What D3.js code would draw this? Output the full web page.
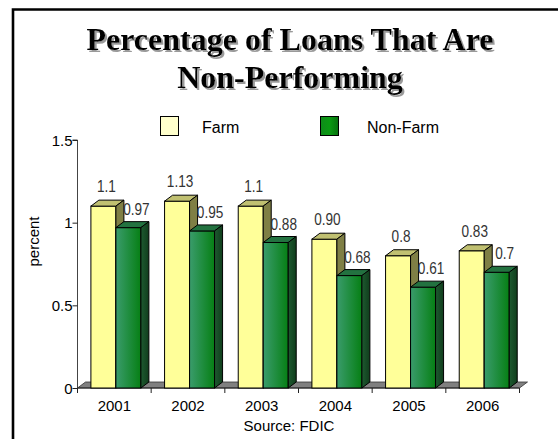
<!DOCTYPE html>
<html>
<head>
<meta charset="utf-8">
<script src="https://cdn.jsdelivr.net/npm/d3@7"></script>
<style>
  html, body { margin: 0; padding: 0; background: #fff; }
  svg { display: block; }
</style>
</head>
<body>
<svg id="chart" width="558" height="439"></svg>
<script>
const years = ["2001", "2002", "2003", "2004", "2005", "2006"];
const farm = [1.1, 1.13, 1.1, 0.90, 0.8, 0.83];
const nonFarm = [0.97, 0.95, 0.88, 0.68, 0.61, 0.7];
const farmLabels = ["1.1", "1.13", "1.1", "0.90", "0.8", "0.83"];
const nonFarmLabels = ["0.97", "0.95", "0.88", "0.68", "0.61", "0.7"];
const seriesNames = ["Farm", "Non-Farm"];
const yTicks = [0, 0.5, 1, 1.5];
const yTickLabels = ["0", "0.5", "1", "1.5"];
const titleLines = ["Percentage of Loans That Are", "Non-Performing"];
const yTitle = "percent";
const sourceText = "Source: FDIC";

const svg = d3.select("#chart");
const defs = svg.append("defs");

const gFront = defs.append("linearGradient").attr("id", "nfFront").attr("x1", "0").attr("x2", "1").attr("y1", "0").attr("y2", "0");
gFront.append("stop").attr("offset", "0%").attr("stop-color", "#3a9c6c");
gFront.append("stop").attr("offset", "100%").attr("stop-color", "#067f14");
const gSide = defs.append("linearGradient").attr("id", "nfSide").attr("x1", "0").attr("x2", "1").attr("y1", "0").attr("y2", "0");
gSide.append("stop").attr("offset", "0%").attr("stop-color", "#1e5a30");
gSide.append("stop").attr("offset", "100%").attr("stop-color", "#103d1c");
const gLeg = defs.append("linearGradient").attr("id", "nfLeg").attr("x1", "0").attr("x2", "1").attr("y1", "0").attr("y2", "0");
gLeg.append("stop").attr("offset", "0%").attr("stop-color", "#0f8a1a");
gLeg.append("stop").attr("offset", "50%").attr("stop-color", "#0a9a12");
gLeg.append("stop").attr("offset", "100%").attr("stop-color", "#06700e");

const shadow = defs.append("filter").attr("id", "tshadow").attr("x", "-5%").attr("y", "-20%").attr("width", "110%").attr("height", "150%");
shadow.append("feOffset").attr("in", "SourceAlpha").attr("dx", 2).attr("dy", 2).attr("result", "off");
shadow.append("feFlood").attr("flood-color", "#9a9a9a").attr("result", "col");
shadow.append("feComposite").attr("in", "col").attr("in2", "off").attr("operator", "in").attr("result", "sh");
const merge = shadow.append("feMerge");
merge.append("feMergeNode").attr("in", "sh");
merge.append("feMergeNode").attr("in", "SourceGraphic");

// frame
svg.append("path").attr("d", "M13,439 V9.5 H558").attr("fill", "none").attr("stroke", "#000").attr("stroke-width", 2.6);

// title with shadow
const titleX = 290;
titleLines.forEach((t, i) => {
  svg.append("text").attr("x", titleX).attr("y", 50 + i * 38).attr("text-anchor", "middle")
    .attr("font-family", "'Liberation Serif', 'Times New Roman', serif").attr("font-weight", "bold")
    .attr("font-size", 32).attr("fill", "#000").attr("filter", "url(#tshadow)").text(t);
});

// scales
const x = d3.scaleBand().domain(years).range([77.5, 519.5]);
const xs = d3.scaleBand().domain(seriesNames).range([13.4, 63.4]);
const y = d3.scaleLinear().domain([0, 1.5]).range([388, 140]);
const dx = 8, dy = 6;
const x0 = x.range()[0], x1 = x.range()[1], y0 = y(0);

// floor
svg.append("polygon")
  .attr("points", [[x0, y0], [x1, y0], [x1 + dx, y0 - dy], [x0 + dx, y0 - dy]].map(p => p.join(",")).join(" "))
  .attr("fill", "#808080").attr("stroke", "#333").attr("stroke-width", 0.8);

// y axis
const yAxis = d3.axisLeft(y).tickValues(yTicks).tickSize(5).tickFormat((d, i) => yTickLabels[i]);
const gy = svg.append("g").attr("transform", `translate(${x0},0)`).call(yAxis);
gy.select(".domain").attr("stroke", "#444").attr("d", `M-5,${y(1.5)}H0V${y0}`);
gy.selectAll(".tick line").attr("stroke", "#222");
gy.selectAll(".tick text").attr("font-family", "'Liberation Sans', Arial, sans-serif").attr("font-size", 15).attr("fill", "#000").attr("x", -5).attr("dy", "0.35em");

// x axis
const xAxis = d3.axisBottom(x).tickSize(0).tickPadding(12);
const gx = svg.append("g").attr("transform", `translate(0,${y0})`).call(xAxis);
gx.select(".domain").attr("stroke", "#222").attr("d", `M${x0},0H${x1}`);
gx.selectAll(".tick text").attr("font-family", "'Liberation Sans', Arial, sans-serif").attr("font-size", 15).attr("fill", "#000").attr("dy", "0.71em").attr("y", 12);
// boundary ticks
const bounds = years.map(d => x(d)).concat([x1]);
svg.append("g").selectAll("line").data(bounds).join("line")
  .attr("x1", d => d).attr("x2", d => d).attr("y1", y0).attr("y2", y0 + 5)
  .attr("stroke", "#222");

// bars
const series = [
  { name: "Farm", vals: farm, labels: farmLabels, front: "#ffff99", top: "#c0c071", side: "#7f7f45", lx: 3, ly: 14 },
  { name: "Non-Farm", vals: nonFarm, labels: nonFarmLabels, front: "url(#nfFront)", top: "#237240", side: "url(#nfSide)", lx: 8, ly: 13 }
];
const barsG = svg.append("g");
years.forEach((yr, i) => {
  series.forEach(s => {
    const v = s.vals[i];
    const xl = x(yr) + xs(s.name), w = xs.bandwidth();
    const top = y(v), bot = y(0);
    const g = barsG.append("g");
    g.append("rect").attr("x", xl).attr("y", top).attr("width", w).attr("height", bot - top)
      .attr("fill", s.front).attr("stroke", "#000").attr("stroke-width", 1);
    g.append("polygon").attr("points", [[xl, top], [xl + w, top], [xl + w + dx, top - dy], [xl + dx, top - dy]].map(p => p.join(",")).join(" "))
      .attr("fill", s.top).attr("stroke", "#000").attr("stroke-width", 1).attr("stroke-linejoin", "round");
    g.append("polygon").attr("points", [[xl + w, top], [xl + w + dx, top - dy], [xl + w + dx, bot - dy], [xl + w, bot]].map(p => p.join(",")).join(" "))
      .attr("fill", s.side).attr("stroke", "#000").attr("stroke-width", 1).attr("stroke-linejoin", "round");
  });
});
// labels (condensed like Arial Narrow)
years.forEach((yr, i) => {
  series.forEach(s => {
    const xl = x(yr) + xs(s.name), w = xs.bandwidth();
    svg.append("text")
      .attr("transform", `translate(${xl + w / 2 + s.lx},${y(s.vals[i]) - s.ly}) scale(0.85,1)`)
      .attr("text-anchor", "middle")
      .attr("font-family", "'Liberation Sans', Arial, sans-serif")
      .attr("font-size", 16).attr("fill", "#333").text(s.labels[i]);
  });
});

// y title
svg.append("text").attr("transform", `translate(38.5,241.5) rotate(-90)`).attr("text-anchor", "middle")
  .attr("font-family", "'Liberation Sans', Arial, sans-serif").attr("font-size", 15).attr("fill", "#000").text(yTitle);

// source
svg.append("text").attr("x", 289).attr("y", 431).attr("text-anchor", "middle")
  .attr("font-family", "'Liberation Sans', Arial, sans-serif").attr("font-size", 15).attr("fill", "#000").text(sourceText);

// legend
const legX = [160, 320];
const legend = svg.append("g");
seriesNames.forEach((n, i) => {
  legend.append("rect").attr("x", legX[i] + 0.5).attr("y", 116.5).attr("width", 18).attr("height", 19)
    .attr("fill", i === 0 ? "#ffffcc" : "url(#nfLeg)").attr("stroke", "#000").attr("stroke-width", 1);
  legend.append("text").attr("x", legX[i] + (i === 0 ? 42 : 47)).attr("y", 133)
    .attr("font-family", "'Liberation Sans', Arial, sans-serif").attr("font-size", 16).attr("fill", "#000").text(n);
});
</script>
</body>
</html>
